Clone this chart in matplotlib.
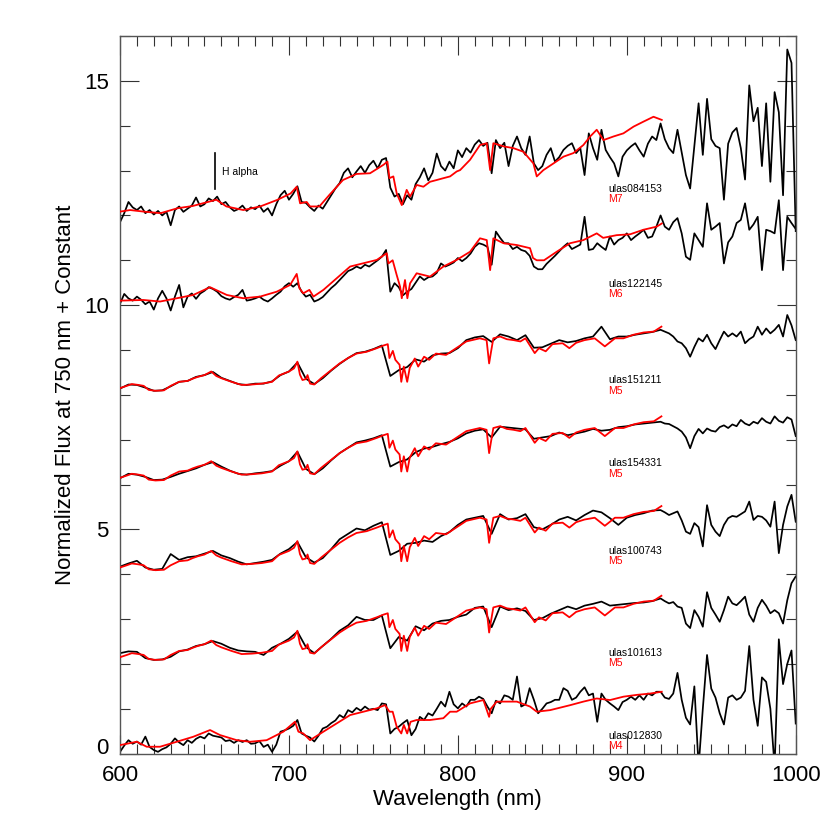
import numpy as np
import matplotlib
matplotlib.use("Agg")
import matplotlib.pyplot as plt
from matplotlib.ticker import MultipleLocator

plt.rcParams['font.family'] = ['Liberation Sans', 'DejaVu Sans']

# ---------------- data ----------------
# wavelength grids of the observed spectra (nm)
tail_wave = np.arange(920, 1000.1, 2.5)                       # 33 points
coarse_wave = np.concatenate([np.arange(600, 920, 5), tail_wave])  # 64 + 33
fine_wave = np.arange(600, 1000.1, 2.5)                       # 161 points

names = ["ulas012830", "ulas101613", "ulas100743", "ulas154331",
         "ulas151211", "ulas122145", "ulas084153"]
types = ["M4", "M5", "M5", "M5", "M5", "M6", "M7"]
offsets = [0, 2, 4, 6, 8, 10, 12]

# fine-sampled (2.5 nm) noisy spectra
ulas012830 = [0.04, 0.18, 0.30, 0.22, 0.27, 0.20, 0.38, 0.15,
              0.08, 0.04, 0.10, 0.14, 0.22, 0.34, 0.25, 0.19,
              0.30, 0.24, 0.33, 0.38, 0.34, 0.45, 0.40, 0.38,
              0.36, 0.28, 0.30, 0.24, 0.30, 0.26, 0.30, 0.22,
              0.23, 0.28, 0.15, 0.20, 0.04, 0.20, 0.49, 0.52,
              0.56, 0.62, 0.75, 0.45, 0.40, 0.36, 0.27, 0.40,
              0.56, 0.60, 0.68, 0.74, 0.86, 0.80, 0.97, 0.92,
              1.02, 0.96, 1.05, 0.98, 1.00, 0.97, 1.12, 1.10,
              0.45, 0.55, 0.60, 0.68, 0.75, 0.41, 0.55, 0.82,
              0.75, 0.90, 0.85, 1.00, 1.16, 1.05, 1.38, 1.10,
              1.01, 1.12, 1.05, 1.20, 1.20, 1.27, 1.22, 1.05,
              0.90, 1.18, 1.12, 1.30, 1.27, 1.20, 1.72, 1.05,
              1.10, 1.46, 1.20, 0.90, 1.00, 1.12, 1.15, 1.20,
              1.20, 1.46, 1.40, 1.20, 1.25, 1.38, 1.48, 1.30,
              1.34, 0.71, 1.34, 1.20, 1.12, 1.05, 0.97, 1.15,
              1.20, 1.27, 1.20, 1.30, 1.20, 1.34, 1.30, 1.38,
              1.38, 1.25, 1.22, 1.34, 1.80, 1.20, 0.80, 0.65, 1.50, -0.30, 1.00,
              2.20, 1.45, 1.25, 0.90, 0.65, 1.25, 1.30, 1.20, 1.25, 1.40, 2.40,
              1.20, 0.62, 1.70, 1.60, 1.00, -0.30, 2.55, 1.55, 2.00, 2.30, 0.67]

ulas122145 = [0.03, 0.25, 0.15, 0.10, 0.19, 0.12, 0.02, 0.08,
              -0.10, 0.15, 0.32, 0.15, -0.12, 0.19, 0.45, -0.05,
              0.19, 0.26, 0.14, 0.26, 0.32, 0.40, 0.36, 0.30,
              0.20, 0.15, 0.12, 0.18, 0.23, 0.34, 0.10, 0.12,
              0.15, 0.19, 0.12, 0.08, 0.15, 0.23, 0.30, 0.42,
              0.49, 0.41, 0.49, 0.30, 0.19, 0.23, 0.08, 0.12,
              0.18, 0.28, 0.38, 0.46, 0.56, 0.66, 0.76, 0.80,
              0.86, 0.82, 0.90, 0.86, 0.93, 1.00, 1.08, 1.23,
              0.30, 0.49, 0.40, 0.22, 0.30, 0.36, 0.50, 0.64,
              0.56, 0.62, 0.64, 0.72, 0.93, 0.86, 0.90, 0.95,
              1.05, 0.98, 1.05, 1.15, 1.30, 1.38, 1.35, 1.30,
              0.90, 1.64, 1.50, 1.38, 1.38, 1.25, 1.30, 1.23,
              1.20, 1.10, 0.86, 0.80, 0.80, 0.92, 1.01, 1.10,
              1.20, 1.30, 1.38, 1.25, 1.30, 1.35, 1.97, 1.23,
              1.25, 1.38, 1.30, 1.23, 1.53, 1.35, 1.45, 1.50,
              1.60, 1.45, 1.53, 1.60, 1.68, 1.50, 1.53, 1.75,
              2.00, 1.75, 1.68, 1.85, 1.94, 1.60, 1.08, 1.01, 1.60, 1.45, 1.30,
              2.27, 1.68, 1.75, 1.83, 0.93, 1.40, 1.53, 1.83, 1.90, 2.27, 1.68,
              1.80, 1.97, 0.78, 1.68, 1.65, 1.60, 2.34, 0.78, 1.97, 1.83, 1.70]

ulas084153 = [-0.15, 0.05, 0.30, 0.18, 0.12, 0.20, 0.05, 0.12,
              0.02, 0.10, 0.00, 0.08, -0.22, 0.12, 0.20, 0.08,
              0.15, 0.22, 0.40, 0.20, 0.25, 0.38, 0.32, 0.42,
              0.25, 0.30, 0.18, 0.10, 0.14, 0.22, 0.10, 0.18,
              0.14, 0.22, 0.08, 0.16, 0.00, 0.25, 0.45, 0.55,
              0.35, 0.48, 0.65, 0.30, 0.28, 0.18, 0.10, 0.22,
              0.15, 0.30, 0.45, 0.60, 0.72, 0.95, 1.05, 0.85,
              0.98, 1.10, 0.95, 1.12, 1.22, 1.05, 1.24, 1.28,
              0.62, 0.42, 0.48, 0.25, 0.45, 0.35, 0.70, 0.85,
              1.05, 0.78, 0.95, 1.38, 1.10, 1.00, 1.20, 1.05,
              1.45, 1.30, 1.50, 1.40, 1.58, 1.68, 1.55, 1.62,
              0.94, 1.68, 1.50, 1.62, 1.10, 1.55, 1.76, 1.50,
              1.35, 1.76, 1.16, 1.01, 1.10, 1.35, 1.50, 1.20,
              1.30, 1.46, 1.55, 1.61, 1.39, 1.50, 0.90, 1.83,
              1.50, 1.24, 1.91, 1.46, 1.30, 1.16, 0.87, 1.31,
              1.45, 1.54, 1.61, 1.45, 1.31, 1.60, 1.76, 1.68,
              2.05, 1.70, 1.50, 1.39, 1.91, 1.40, 0.90, 0.60, 1.55, 2.50, 1.35,
              2.60, 1.70, 1.55, 1.50, 0.35, 1.60, 1.85, 1.95, 1.50, 0.80, 2.90,
              2.10, 2.40, 1.10, 2.50, 0.75, 2.75, 2.30, 0.45, 3.70, 3.40, -0.35]

# coarser (5 nm, then 2.5 nm beyond 920 nm) spectra
ulas101613 = [0.24, 0.28, 0.27, 0.13, 0.09, 0.10, 0.16, 0.28, 0.32, 0.40,
              0.44, 0.51, 0.45, 0.36, 0.30, 0.28, 0.27, 0.20, 0.36, 0.45,
              0.56, 0.72, 0.38, 0.24, 0.40, 0.56, 0.74, 0.86, 1.05, 0.98,
              0.98, 1.08, 0.35, 0.60, 0.52, 0.84, 0.75, 0.90, 0.96, 0.98,
              1.05, 1.10, 1.25, 1.28, 0.82, 1.28, 1.20, 1.24, 1.18, 0.98,
              1.02, 1.12, 1.20, 1.28, 1.22, 1.30, 1.34, 1.39, 1.30, 1.32,
              1.34, 1.36, 1.37, 1.40,
              1.46, 1.40, 1.35, 1.38, 1.28, 1.25, 0.90, 0.80, 1.20, 1.05, 0.83,
              1.60, 1.25, 1.10, 0.94, 1.20, 1.50, 1.35, 1.31, 1.40, 1.50, 1.10,
              0.94, 1.25, 1.43, 1.30, 1.13, 1.20, 1.13, 0.90, 1.42, 1.80, 1.95]

ulas100743 = [0.17, 0.24, 0.30, 0.15, 0.10, 0.12, 0.45, 0.32, 0.38, 0.40,
              0.46, 0.52, 0.42, 0.36, 0.28, 0.22, 0.25, 0.28, 0.32, 0.46,
              0.56, 0.72, 0.38, 0.26, 0.36, 0.56, 0.78, 0.90, 1.02, 0.98,
              1.08, 1.16, 0.43, 0.52, 0.68, 0.70, 0.75, 0.72, 0.85, 0.94,
              1.10, 1.22, 1.26, 1.30, 0.90, 1.34, 1.22, 1.25, 1.34, 1.05,
              1.00, 1.10, 1.22, 1.28, 1.20, 1.32, 1.42, 1.38, 1.25, 1.10,
              1.26, 1.32, 1.36, 1.42,
              1.43, 1.38, 1.32, 1.36, 1.40, 1.20, 0.95, 0.90, 1.14, 1.05, 0.62,
              1.54, 1.10, 0.95, 0.85, 1.10, 1.25, 1.30, 1.28, 1.34, 1.40, 1.62,
              1.21, 1.30, 1.28, 1.20, 1.06, 1.62, 0.47, 1.10, 1.51, 1.77, 1.17]

ulas154331 = [0.14, 0.24, 0.22, 0.17, 0.10, 0.11, 0.17, 0.24, 0.30, 0.36,
              0.44, 0.50, 0.40, 0.31, 0.24, 0.22, 0.25, 0.27, 0.30, 0.42,
              0.52, 0.73, 0.35, 0.23, 0.36, 0.54, 0.70, 0.82, 0.94, 0.98,
              1.03, 1.10, 0.40, 0.50, 0.56, 0.72, 0.80, 0.84, 0.90, 0.95,
              1.03, 1.14, 1.20, 1.23, 1.05, 1.29, 1.27, 1.25, 1.23, 1.02,
              1.05, 1.08, 1.16, 1.10, 1.14, 1.18, 1.24, 1.20, 1.22, 1.28,
              1.30, 1.34, 1.36, 1.38,
              1.40, 1.36, 1.35, 1.30, 1.25, 1.18, 1.05, 0.81, 1.08, 1.24, 1.14,
              1.25, 1.20, 1.18, 1.28, 1.32, 1.26, 1.34, 1.30, 1.44, 1.36, 1.32,
              1.40, 1.36, 1.48, 1.40, 1.36, 1.52, 1.42, 1.38, 1.50, 1.45, 1.08]

ulas151211 = [0.14, 0.23, 0.22, 0.16, 0.09, 0.10, 0.19, 0.29, 0.31, 0.40,
              0.44, 0.51, 0.38, 0.31, 0.24, 0.22, 0.25, 0.25, 0.30, 0.44,
              0.52, 0.72, 0.36, 0.24, 0.37, 0.54, 0.69, 0.82, 0.93, 0.96,
              1.02, 1.10, 0.42, 0.55, 0.62, 0.79, 0.74, 0.88, 0.92, 0.93,
              1.04, 1.22, 1.28, 1.31, 1.18, 1.35, 1.30, 1.22, 1.33, 1.05,
              1.06, 1.14, 1.22, 1.17, 1.20, 1.26, 1.30, 1.52, 1.24, 1.30,
              1.30, 1.34, 1.37, 1.40,
              1.45, 1.41, 1.37, 1.30, 1.19, 1.15, 1.04, 0.85, 1.07, 1.26, 1.19,
              1.34, 1.15, 1.02, 1.22, 1.41, 1.30, 1.37, 1.30, 1.41, 1.15, 1.24,
              1.30, 1.52, 1.34, 1.48, 1.37, 1.45, 1.56, 1.30, 1.78, 1.55, 1.22]

# template spectra (red)
M4_wave = [600, 609.9, 615.8, 623.7, 633.6, 643.4, 653.3, 659.2, 669.1, 677,
           686.8, 696.7, 703.6, 705.6, 708.5, 712.5, 720.4, 728.3, 736.2, 744.1,
           752, 756.9, 759.5, 761.4, 763.8, 766.5, 768, 770, 772, 775.6, 783.5,
           791.4, 795.4, 799.3, 807.2, 815.1, 818.5, 819.5, 823, 834.9, 842.7,
           846.7, 854.6, 866.4, 874.3, 882.2, 890.1, 898, 905.9, 913.8, 920.7]
M4_flux = [0.19, 0.265, 0.154, 0.154, 0.265, 0.377, 0.526, 0.414, 0.30, 0.265,
           0.30, 0.49, 0.712, 0.49, 0.45, 0.30, 0.49, 0.675, 0.86, 0.935,
           1.01, 1.083, 0.935, 0.935, 0.60, 0.45, 0.64, 0.45, 0.71, 0.75, 0.75,
           0.79, 0.935, 0.935, 1.12, 1.195, 0.82, 1.0, 1.16, 1.16, 1.05,
           0.935, 0.97, 1.08, 1.16, 1.23, 1.195, 1.27, 1.31, 1.34, 1.38]

M5_wave = [600, 604, 607, 611, 614, 617, 621, 626, 630, 635, 640, 643, 646, 650,
           654, 657, 660, 666, 672, 678, 684, 690, 694, 700, 703, 705, 706.5,
           708, 710, 711, 712.5, 715, 719, 725, 730, 735, 740, 746, 752, 756,
           758.5, 759.5, 761.5, 763, 765.5, 766.5, 768, 770, 771.5, 774.5,
           776.5, 780, 783, 787, 793, 799, 805, 813, 817, 818.5, 819.5, 821,
           825, 829, 833, 837, 840, 843, 845.5, 848, 852, 856, 862, 866, 870,
           875, 881, 887, 893, 898, 904, 910, 916, 920.5]
M5_flux = [0.15, 0.20, 0.24, 0.22, 0.20, 0.11, 0.09, 0.10, 0.20, 0.29, 0.31,
           0.36, 0.40, 0.44, 0.52, 0.42, 0.37, 0.29, 0.22, 0.23, 0.25, 0.29,
           0.43, 0.52, 0.59, 0.74, 0.45, 0.33, 0.35, 0.44, 0.25, 0.23, 0.37,
           0.55, 0.70, 0.82, 0.92, 0.96, 1.04, 1.10, 1.13, 0.82, 0.98, 0.78,
           0.67, 0.29, 0.63, 0.29, 0.60, 0.81, 0.63, 0.85, 0.78, 0.92, 0.89,
           1.04, 1.19, 1.26, 1.22, 0.70, 0.93, 1.26, 1.30, 1.24, 1.22, 1.19,
           1.26, 1.08, 0.93, 1.04, 0.97, 1.13, 1.15, 1.04, 1.16, 1.22, 1.26,
           1.08, 1.26, 1.26, 1.34, 1.39, 1.41, 1.52]

M6_wave = [600, 613.8, 623.7, 633.6, 643.4, 653.3, 663.2, 673, 682.9, 692.8,
           700.7, 704.6, 706.2, 708.5, 712.1, 714.5, 720.4, 728.3, 736.2, 744.1,
           752, 757.9, 758.9, 761.4, 763.8, 765.8, 766.8, 768.7, 770.1, 771.7,
           775.6, 783.5, 791.4, 799.3, 807.2, 813.1, 817.1, 819.1, 821, 827,
           834.9, 842.7, 844.5, 846.7, 851, 858.5, 866.4, 874.3, 882.2, 886,
           894, 902, 909.8, 917.7, 920.7]
M6_flux = [0.10, 0.115, 0.08, 0.153, 0.227, 0.40, 0.227, 0.153, 0.19, 0.30,
           0.45, 0.696, 0.376, 0.264, 0.34, 0.19, 0.34, 0.60, 0.86, 0.934,
           1.008, 1.157, 0.93, 1.0, 0.67, 0.41, 0.153, 0.56, 0.153, 0.487,
           0.71, 0.636, 0.86, 1.008, 1.19, 1.49, 1.45, 0.78, 1.49, 1.38,
           1.34, 1.27, 1.05, 1.0, 1.0, 1.19, 1.38, 1.45, 1.60, 1.50,
           1.56, 1.58, 1.68, 1.75, 1.82]

M7_wave = [600, 606, 614, 624, 634, 643, 653, 657, 663, 673, 683, 693, 701,
           704.6, 706.6, 710.5, 712.5, 718, 724, 732, 740, 748, 756, 758.3,
           759.5, 761.8, 763.8, 766.8, 769.7, 771.7, 775.6, 779.6, 783.5, 787.5,
           791.4, 795.4, 799.3, 801.3, 807.2, 813.1, 817.1, 819.1, 821, 827,
           832.9, 838.8, 844.7, 846.7, 850.6, 856.6, 862.5, 868.4, 874.3, 878.3,
           882.2, 886.2, 892.1, 898, 904, 909.8, 915.8, 920.7]
M7_flux = [0.085, 0.12, 0.085, 0.05, 0.16, 0.21, 0.31, 0.35, 0.20, 0.12, 0.20,
           0.345, 0.49, 0.64, 0.27, 0.30, 0.20, 0.20, 0.46, 0.79, 0.925, 0.94,
           1.13, 1.20, 0.83, 0.87, 0.49, 0.23, 0.57, 0.42, 0.68, 0.64, 0.75,
           0.79, 0.83, 0.87, 0.98, 1.01, 1.24, 1.57, 1.61, 1.01, 1.61, 1.54,
           1.50, 1.42, 1.16, 0.87, 1.01, 1.16, 1.31, 1.39, 1.57, 1.76, 1.91,
           1.68, 1.76, 1.83, 1.98, 2.09, 2.20, 2.13]

observed = [(fine_wave, ulas012830), (coarse_wave, ulas101613),
            (coarse_wave, ulas100743), (coarse_wave, ulas154331),
            (coarse_wave, ulas151211), (fine_wave, ulas122145),
            (fine_wave, ulas084153)]
templates = {"M4": (M4_wave, M4_flux), "M5": (M5_wave, M5_flux),
             "M6": (M6_wave, M6_flux), "M7": (M7_wave, M7_flux)}
# label positions (data units)
label_x = 889
name_y = [0.40, 2.25, 4.52, 6.47, 8.32, 10.47, 12.59]
type_y = [0.17, 2.02, 4.29, 6.24, 8.09, 10.24, 12.36]
halpha_wave = 656.3

# ---------------- plot ----------------
fig = plt.figure(figsize=(8.3, 8.3), dpi=100)
ax = fig.add_axes([0.1446, 0.092, 0.8141, 0.8646])

for (wv, flux), sptype, off, nm, ny, ty in zip(observed, types, offsets, names, name_y, type_y):
    ax.plot(wv, np.array(flux) + off, color='black', lw=1.25, zorder=2)
    tw, tf = templates[sptype]
    ax.plot(tw, np.array(tf) + off, color='#ff0000', lw=1.3, zorder=3)
    ax.text(label_x, ny, nm, color='black', fontsize=7.5, va='center', ha='left', zorder=4)
    ax.text(label_x, ty, sptype, color='#ff0000', fontsize=7.5, va='center', ha='left', zorder=4)

ax.plot([halpha_wave, halpha_wave], [12.59, 13.39], color='black', lw=1.2)
ax.text(660.5, 12.97, "H alpha", fontsize=7.5, va='center', ha='left')

ax.set_xlim(600, 1000)
ax.set_ylim(0, 16)
ax.set_xticks([600, 700, 800, 900, 1000])
ax.set_yticks([0, 5, 10, 15])
ax.xaxis.set_minor_locator(MultipleLocator(10))
ax.yaxis.set_minor_locator(MultipleLocator(1))
ax.tick_params(which='both', direction='in', top=True, right=True, labelsize=16,
               color='#333333', width=0.8)
ax.tick_params(which='major', length=14, pad=8)
ax.tick_params(which='minor', length=7)
for s in ax.spines.values():
    s.set_color('#555555')
    s.set_linewidth(1.0)
ax.set_xlabel("Wavelength (nm)", fontsize=16, labelpad=2)
ax.set_ylabel("Normalized Flux at 750 nm + Constant", fontsize=16, labelpad=6)
ax.get_yticklabels()[0].set_va('baseline')

fig.savefig("out.png", dpi=100)
